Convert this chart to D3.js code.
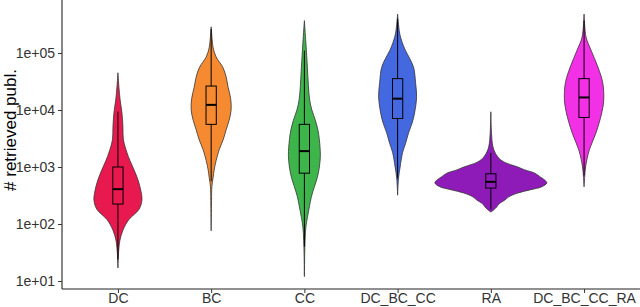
<!DOCTYPE html>
<html>
<head>
<meta charset="utf-8">
<script src="https://cdn.jsdelivr.net/npm/d3@7"></script>
<style>
  body { margin: 0; background: #fff; }
  text { font-family: "Liberation Sans", Arial, sans-serif; }
</style>
</head>
<body>
<div id="chart"></div>
<script>
// categories and colours
const categories = ['DC', 'BC', 'CC', 'DC_BC_CC', 'RA', 'DC_BC_CC_RA'];
const colors = ['#E8194F', '#F58A30', '#3DB54A', '#4468E0', '#8E1BB8', '#F230E6'];

// y ticks
const tickValues = [1e1, 1e2, 1e3, 1e4, 1e5];

// violin profiles: counts and relative density
const dcCounts = [45000, 25000, 15000, 9000, 5000, 3000, 1800, 1300, 900, 600, 380, 260, 180, 120, 78, 52, 35, 17];
const dcDensity = [0, 1, 2.2, 4, 5, 5.5, 9, 12, 16, 20, 23, 24, 21, 11, 5, 2, 0.8, 0];

const bcCounts = [288000, 170000, 123000, 85000, 56000, 38000, 25000, 16000, 10000, 6600, 4500, 3000, 2000, 1300, 890, 660, 450, 260, 76];
const bcDensity = [0, 1, 2, 5, 11.7, 15, 17, 19.5, 20, 18, 15, 12, 8, 5, 3, 2, 0.7, 0.4, 0];

const ccCounts = [370000, 150000, 56000, 27000, 15000, 10000, 6600, 4500, 3000, 1600, 1000, 660, 450, 300, 200, 130, 89, 52, 29, 12];
const ccDensity = [0, 1.5, 3, 4, 5.3, 7.5, 11, 13.5, 15, 16, 15, 13, 10, 7, 5, 3, 1.5, 0.7, 0.3, 0];

const dbcCounts = [480000, 224000, 155000, 112000, 81000, 56000, 30000, 17000, 8900, 5900, 4000, 2600, 1800, 1000, 660, 470, 320];
const dbcDensity = [0, 2, 4.5, 7.7, 12, 16, 18, 19, 17, 14.5, 11, 8, 5, 2.5, 1, 0.4, 0];

const raCounts = [9300, 4500, 2600, 2000, 1500, 1230, 1000, 890, 780, 660, 590, 525, 450, 400, 350, 300, 263, 224, 200, 178, 162];
const raDensity = [0, 0.5, 1.5, 3, 7, 13, 27, 34, 44, 50, 54, 56, 51, 40, 27, 18, 14, 8, 6, 3, 0];

const allCounts = [480000, 190000, 112000, 56000, 30000, 15000, 8900, 4000, 2000, 1000, 660, 450];
const allDensity = [0, 2, 7, 14, 18.7, 19.7, 17.7, 12, 5.3, 1.5, 0.6, 0];

const violinCounts = [dcCounts, bcCounts, ccCounts, dbcCounts, raCounts, allCounts];
const violinDensity = [dcDensity, bcDensity, ccDensity, dbcDensity, raDensity, allDensity];

// box stats per category
const whiskerLow = [24, 560, 40, 630, 180, 710];
const q1 = [224, 5600, 780, 7100, 427, 7400];
const median = [409, 12300, 1900, 15800, 550, 16600];
const q3 = [1000, 26300, 5600, 35500, 760, 35500];
const whiskerHigh = [9400, 263000, 110000, 398000, 1780, 370000];

const W = 640, H = 307;
const margin = { top: 0, right: 0, bottom: 18, left: 62 };
const width = W - margin.left - margin.right;
const height = H - margin.top - margin.bottom;

const svg = d3.select('#chart').append('svg')
  .attr('width', W)
  .attr('height', H);

const g = svg.append('g')
  .attr('transform', `translate(${margin.left},${margin.top})`);

// scales
const x = d3.scalePoint()
  .domain(categories)
  .range([0, width])
  .padding(0.6);

const y = d3.scaleLog()
  .domain([7.25, 850000])
  .range([height, 0]);

const step = x.step();
const w = d3.scaleLinear().domain([0, 56]).range([0, step * 0.6]);

// violins
categories.forEach((cat, i) => {
  const cx = x(cat);
  const pts = violinCounts[i].map((c, j) => ({ c, d: violinDensity[i][j] }));
  const area = d3.area()
    .y(d => y(d.c))
    .x0(d => cx - w(d.d))
    .x1(d => cx + w(d.d))
    .curve(d3.curveCatmullRom);
  g.append('path')
    .datum(pts)
    .attr('d', area)
    .attr('fill', colors[i])
    .attr('stroke', '#333')
    .attr('stroke-width', 0.8);
});

// boxplots
const bw = step * 0.11;
categories.forEach((cat, i) => {
  const cx = x(cat);
  g.append('line')
    .attr('x1', cx).attr('x2', cx)
    .attr('y1', y(whiskerLow[i])).attr('y2', y(q1[i]))
    .attr('stroke', '#000').attr('stroke-width', 1);
  g.append('line')
    .attr('x1', cx).attr('x2', cx)
    .attr('y1', y(q3[i])).attr('y2', y(whiskerHigh[i]))
    .attr('stroke', '#000').attr('stroke-width', 1);
  g.append('rect')
    .attr('x', cx - bw / 2)
    .attr('y', y(q3[i]))
    .attr('width', bw)
    .attr('height', y(q1[i]) - y(q3[i]))
    .attr('fill', 'none')
    .attr('stroke', '#000')
    .attr('stroke-width', 1);
  g.append('line')
    .attr('x1', cx - bw / 2).attr('x2', cx + bw / 2)
    .attr('y1', y(median[i])).attr('y2', y(median[i]))
    .attr('stroke', '#000').attr('stroke-width', 2);
});

// axes
const fmt = d => '1e+' + String(Math.round(Math.log10(d))).padStart(2, '0');

const yAxis = g.append('g')
  .call(d3.axisLeft(y).tickValues(tickValues).tickFormat(fmt).tickSize(4).tickPadding(3));
const xAxis = g.append('g')
  .attr('transform', `translate(0,${height})`)
  .call(d3.axisBottom(x).tickSize(4).tickPadding(0));

[yAxis, xAxis].forEach(a => {
  a.select('.domain').attr('stroke', '#222').attr('stroke-width', 1.1);
  a.selectAll('.tick line').attr('stroke', '#333');
  a.selectAll('text')
    .attr('fill', '#333')
    .style('font-size', '14px')
    .style('font-family', '"Liberation Sans", Arial, sans-serif');
});
// extend domain lines to full panel without end caps
yAxis.select('.domain').attr('d', `M0,0V${height}`);
xAxis.select('.domain').attr('d', `M0,0H${width}`);

svg.append('text')
  .attr('transform', 'translate(16,130) rotate(-90)')
  .attr('text-anchor', 'middle')
  .style('font-size', '17px')
  .attr('fill', '#000')
  .text('# retrieved publ.');
</script>
</body>
</html>
